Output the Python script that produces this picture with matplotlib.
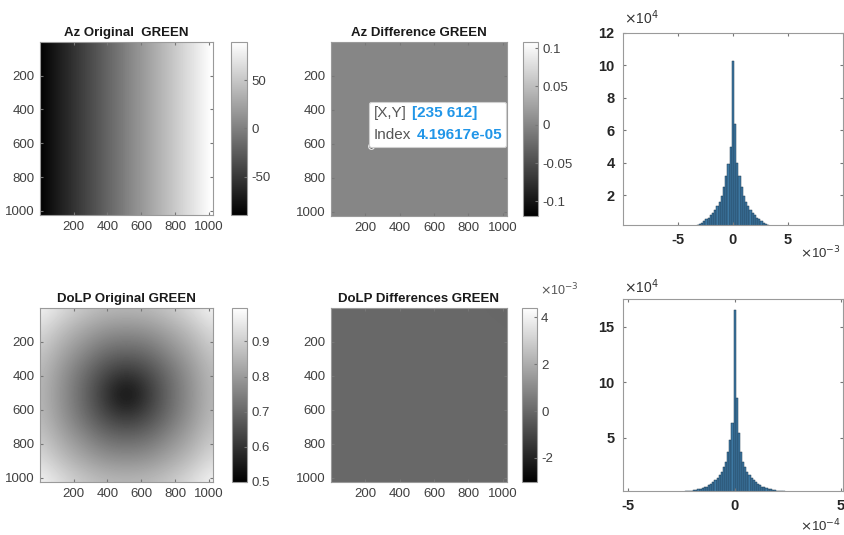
import numpy as np
import matplotlib
matplotlib.use('Agg')
import matplotlib.pyplot as plt
from matplotlib.ticker import FuncFormatter
from matplotlib.offsetbox import TextArea, HPacker, VPacker, AnnotationBbox

plt.rcParams['font.family'] = ['Liberation Sans', 'DejaVu Sans']
plt.rcParams['axes.unicode_minus'] = False

# ---- data ----
az_cols = [[-90.0, 90.0]]                      # Az original: left edge -> right edge
az_clim = (-89.6, 89.6)

dolp_grid = [                                   # DoLP original, 9x9 samples at 0,128,..,1024
    [0.98, 0.93, 0.89, 0.865, 0.86, 0.865, 0.89, 0.93, 0.98],
    [0.93, 0.87, 0.825, 0.79, 0.78, 0.79, 0.825, 0.87, 0.93],
    [0.89, 0.825, 0.77, 0.715, 0.70, 0.715, 0.77, 0.825, 0.89],
    [0.865, 0.79, 0.715, 0.64, 0.60, 0.64, 0.715, 0.79, 0.865],
    [0.86, 0.78, 0.70, 0.60, 0.50, 0.60, 0.70, 0.78, 0.86],
    [0.865, 0.79, 0.715, 0.64, 0.60, 0.64, 0.715, 0.79, 0.865],
    [0.89, 0.825, 0.77, 0.715, 0.70, 0.715, 0.77, 0.825, 0.89],
    [0.93, 0.87, 0.825, 0.79, 0.78, 0.79, 0.825, 0.87, 0.93],
    [0.98, 0.93, 0.89, 0.865, 0.86, 0.865, 0.89, 0.93, 0.98],
]
dolp_clim = (0.5, 0.995)

az_diff = [[4.2e-5, -3.0e-5], [-2.0e-5, 3.5e-5]]
az_diff_clim = (-0.119, 0.108)
dolp_diff = [[1.0e-5, -1.5e-5], [-0.5e-5, 1.2e-5]]
dolp_diff_clim = (-3.03e-3, 4.4e-3)

tip_xy = (235, 612)
tip_index = '4.19617e-05'

# histogram of Az difference (counts x1e4), bin width 2e-4
az_hist_edges = np.arange(-35, 36, 2) * 1e-4
az_hist_counts = [0.1, 0.16, 0.22, 0.3, 0.4, 0.5, 0.6, 0.75, 0.9, 1.1, 1.35, 1.6,
                  1.95, 2.5, 3.2, 3.9, 5.0, 10.3, 6.4, 4.0, 3.2, 2.5, 1.95, 1.6,
                  1.35, 1.1, 0.9, 0.75, 0.6, 0.5, 0.4, 0.3, 0.22, 0.16, 0.1]
# histogram of DoLP difference (counts x1e4), bin width 1e-5
dolp_hist_edges = np.arange(-61, 62, 2) * 0.5e-5
dolp_hist_counts = [0.07, 0.08, 0.09, 0.1, 0.11, 0.12, 0.14, 0.16, 0.18, 0.2,
                    0.23, 0.26, 0.3, 0.34, 0.39, 0.45, 0.52, 0.6, 0.7, 0.82,
                    0.97, 1.15, 1.38, 1.65, 1.95, 2.35, 2.8, 3.7, 4.8, 6.3,
                    16.5,
                    8.6, 5.4, 3.7, 2.8, 2.35, 1.95, 1.65, 1.38, 1.15, 0.97,
                    0.82, 0.7, 0.6, 0.52, 0.45, 0.39, 0.34, 0.3, 0.26, 0.23,
                    0.2, 0.18, 0.16, 0.14, 0.12, 0.11, 0.1, 0.09, 0.08, 0.07]

W, H = 845, 535
fig = plt.figure(figsize=(W / 100, H / 100), dpi=100)


def px_axes(x0, y0, x1, y1):
    return fig.add_axes([x0 / W, 1 - y1 / H, (x1 - x0) / W, (y1 - y0) / H])


tick_col = '#404040'
spine_col = '#9a9a9a'


def style_img_axes(ax, title):
    ax.set_xlim(0.5, 1024.5)
    ax.set_ylim(1024.5, 0.5)
    ax.set_xticks([200, 400, 600, 800, 1000])
    ax.set_yticks([200, 400, 600, 800, 1000])
    ax.tick_params(direction='in', length=2.5, top=True, right=True,
                   labelsize=9.5, labelcolor=tick_col, color='#777777', pad=4)
    for s in ax.spines.values():
        s.set_color(spine_col)
    ax.set_title(title, fontsize=9.5, fontweight='bold', color='#1a1a1a', pad=4)


def img(ax, data, clim, interp='bilinear'):
    data = np.array(data)
    ny, nx = data.shape
    # sample points sit on the image edges, so pad extent by half a cell
    hx = 1024.0 / max(nx - 1, 1) / 2
    hy = 1024.0 / max(ny - 1, 1) / 2
    return ax.imshow(data, cmap='gray', vmin=clim[0], vmax=clim[1], aspect='auto',
                     extent=(0.5 - hx, 1024.5 + hx, 1024.5 + hy, 0.5 - hy),
                     interpolation=interp)


def cbar(im, x0, y0, x1, y1, ticks, fmt=None):
    cax = px_axes(x0, y0, x1, y1)
    cb = fig.colorbar(im, cax=cax, ticks=ticks)
    cb.outline.set_edgecolor(spine_col)
    cax.tick_params(direction='in', length=2.5, labelsize=9.5, labelcolor=tick_col,
                    color='#777777', pad=3)
    if fmt is not None:
        cax.yaxis.set_major_formatter(FuncFormatter(fmt))
    return cax


# Az original
ax1 = px_axes(40, 42, 213, 215)
im1 = img(ax1, az_cols, az_clim)
style_img_axes(ax1, 'Az Original  GREEN')
cbar(im1, 231, 42, 247, 215, [-50, 0, 50])

# Az difference
ax2 = px_axes(331, 42, 507, 216)
im2 = img(ax2, az_diff, az_diff_clim)
style_img_axes(ax2, 'Az Difference GREEN')
cbar(im2, 523, 42, 538, 216, [-0.1, -0.05, 0, 0.05, 0.1],
     fmt=lambda v, p: ('%g' % round(v, 3)))
ax2.plot(tip_xy[0], tip_xy[1], 'o', ms=4, mfc='#111111', mec='#e6e6e6', mew=1.0)
lab = dict(color='#555555', fontsize=11)
val = dict(color='#2196e8', fontsize=11, fontweight='bold')
row1 = HPacker(children=[TextArea('[X,Y]', textprops=lab),
                         TextArea('[%d %d]' % tip_xy, textprops=val)], pad=0, sep=4)
row2 = HPacker(children=[TextArea('Index', textprops=lab),
                         TextArea(tip_index, textprops=val)], pad=0, sep=4)
box = VPacker(children=[row1, row2], pad=0, sep=6)
ab = AnnotationBbox(box, tip_xy, xycoords='data', box_alignment=(0, 0),
                    xybox=(1.5, 2.5), boxcoords='offset points', frameon=True,
                    bboxprops=dict(boxstyle='round,pad=0.3,rounding_size=0.15',
                                   fc='white', ec='#cfcfcf', lw=0.8),
                    pad=0.3, annotation_clip=False)
ax2.add_artist(ab)

# DoLP original
ax4 = px_axes(40, 308, 213, 482)
im4 = img(ax4, dolp_grid, dolp_clim, interp='bicubic')
style_img_axes(ax4, 'DoLP Original GREEN')
cbar(im4, 232, 308, 247, 482, [0.5, 0.6, 0.7, 0.8, 0.9])

# DoLP difference
ax5 = px_axes(331, 308, 507, 482)
im5 = img(ax5, dolp_diff, dolp_diff_clim)
style_img_axes(ax5, 'DoLP Differences GREEN')
cax5 = cbar(im5, 522, 308, 537, 482, [-2e-3, 0, 2e-3, 4e-3],
            fmt=lambda v, p: '%g' % round(v * 1e3, 3))
fig.text(540 / W, 1 - 298 / H, r'$\times$10$^{-3}$', fontsize=9, color='#555555',
         ha='left', va='bottom')


def hist_axes(ax, edges, counts, xlim, xticks, ylim, yticks, xexp):
    counts = np.array(counts) * 1e4
    ax.bar(edges[:-1], counts, width=np.diff(edges), align='edge',
           color='#3d78a2', edgecolor='#1d3a50', linewidth=0.35)
    ax.set_xlim(*xlim)
    ax.set_ylim(*ylim)
    ax.set_xticks(xticks)
    ax.set_yticks(yticks)
    ax.xaxis.set_major_formatter(FuncFormatter(lambda v, p: '%g' % round(v / 10 ** xexp, 3)))
    ax.yaxis.set_major_formatter(FuncFormatter(lambda v, p: '%g' % round(v / 1e4, 3)))
    ax.tick_params(direction='in', length=2.5, top=True, right=True, labelsize=10.5,
                   labelcolor='#262626', color='#777777', pad=6)
    for t in ax.get_xticklabels() + ax.get_yticklabels():
        t.set_fontweight('bold')
    for s in ax.spines.values():
        s.set_color(spine_col)


ax3 = px_axes(623, 33, 843, 225)
hist_axes(ax3, az_hist_edges, az_hist_counts, (-0.01, 0.01), [-5e-3, 0, 5e-3],
          (1600, 120000), [20000, 40000, 60000, 80000, 100000, 120000], -3)
fig.text(624 / W, 1 - 27 / H, r'$\times$10$^{4}$', fontsize=10, color='#333333',
         ha='left', va='bottom')
fig.text(841 / W, 1 - 261 / H, r'$\times$10$^{-3}$', fontsize=9.5, color='#333333',
         ha='right', va='bottom')

ax6 = px_axes(623, 299, 843, 491)
hist_axes(ax6, dolp_hist_edges, dolp_hist_counts, (-5.25e-4, 5.1e-4), [-5e-4, 0, 5e-4],
          (2000, 175000), [50000, 100000, 150000], -4)
fig.text(624 / W, 1 - 296 / H, r'$\times$10$^{4}$', fontsize=10, color='#333333',
         ha='left', va='bottom')
fig.text(841 / W, 1 - 534 / H, r'$\times$10$^{-4}$', fontsize=9.5, color='#333333',
         ha='right', va='bottom')

fig.savefig('out.png', dpi=100, facecolor='white')
